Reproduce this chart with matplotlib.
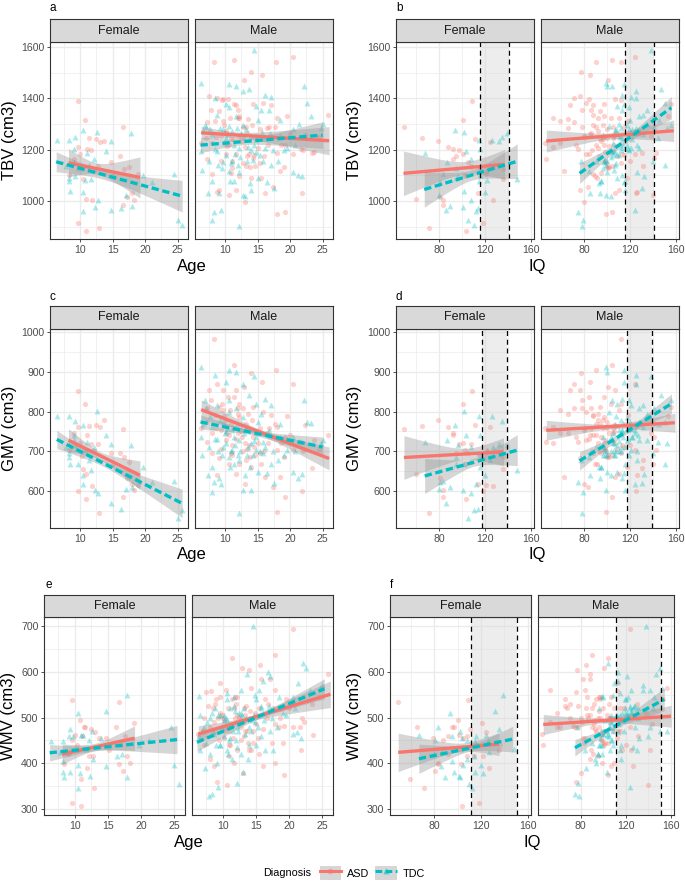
import numpy as np
import matplotlib.pyplot as plt
from matplotlib.patches import Patch
from matplotlib.lines import Line2D

plt.rcParams['font.family'] = ['Liberation Sans', 'DejaVu Sans']

ASD_COL = '#F8766D'
TDC_COL = '#00BFC4'

# subjects (TBV = GMV + WMV)
# female ASD
fa_age = [9.6, 10.8, 11.4, 12.5, 13.1, 13.6, 9.6, 11.1, 11.6, 12.8,
          10.5, 10.9, 11.8, 9.6, 10.9, 12.9, 16.6, 14.7, 16.2, 16.8,
          15.1, 17.2, 17.9, 18.3, 16.6, 9.0, 10.0, 8.3, 10.3, 17.5,
          18.9, 12.2]
fa_gmv = [852, 820, 764, 766, 761, 778, 761, 741, 718, 718,
          655, 642, 613, 600, 579, 546, 755, 696, 697, 686,
          669, 632, 617, 603, 586, 745, 720, 703, 689, 674,
          615, 700]
fa_wmv = [538, 495, 480, 474, 469, 455, 451, 460, 480, 417,
          429, 366, 390, 314, 306, 347, 534, 455, 480, 440,
          429, 384, 415, 401, 398, 420, 462, 399, 439, 459,
          489, 417]
fa_iq = [108.5, 100.5, 65, 111, 124, 79, 88, 92, 97, 108,
         135.5, 59.5, 127, 118, 103.5, 71, 49.5, 105, 95, 136,
         102.5, 80.6, 114, 83.5, 83, 92, 101, 102.5, 115.7, 108,
         121, 121.5]

# female TDC
ft_age = [6.4, 8.2, 9.2, 10.4, 12.6, 14.0, 9.1, 9.1, 11.0, 12.2,
          14.7, 17.8, 8.2, 8.2, 8.4, 9.7, 10.4, 10.4, 11.7, 11.3,
          12.3, 12.8, 14.7, 16.3, 17.1, 17.9, 19.6, 21.1, 24.5, 25.0,
          25.7, 10.8, 9.2, 7.8]
ft_gmv = [788, 788, 776, 766, 801, 741, 741, 728, 724, 711,
          718, 715, 695, 686, 669, 669, 640, 617, 654, 678,
          603, 594, 571, 555, 604, 611, 661, 623, 626, 531,
          552, 703, 715, 711]
ft_wmv = [449, 449, 474, 510, 470, 455, 460, 424, 462, 451,
          515, 550, 382, 405, 371, 460, 396, 346, 432, 462,
          373, 410, 395, 417, 420, 370, 440, 452, 480, 397,
          354, 378, 382, 424]
ft_iq = [115, 126, 135, 93.7, 102, 103.4, 115.7, 86.4, 67.4, 108,
         132, 139, 115, 95, 102, 95, 120, 112, 148, 124.4,
         101, 108, 86, 114, 80, 89, 115.7, 80.6, 83, 105,
         110, 121.5, 96.7, 127]

# male ASD
ma_age = [8.2, 11.4, 17.8, 20.5, 14.0, 15.6, 8.8, 7.5, 9.6, 12.9,
          11.7, 7.2, 10.4, 11.4, 12.2, 12.7, 14.3, 15.8, 17.1, 17.9,
          17.6, 19.2, 25.8, 23.6, 22.3, 23.4, 21.8, 19.2, 17.9, 17.4,
          18.4, 16.1, 15.5, 13.1, 11.7, 8.7, 8.0, 7.2, 9.1, 10.6,
          12.2, 13.8, 14.5, 16.6, 16.4, 14.8, 13.2, 12.2, 10.9, 9.3,
          8.0, 10.1, 11.1, 13.0, 14.3, 17.9, 19.0, 20.5, 21.6, 8.5,
          9.6, 13.5, 11.9, 10.9, 13.2, 15.3, 7.0, 10.1, 6.3, 9.5,
          19.5, 22.0,
          9.0, 9.8, 10.3, 10.8, 11.2, 11.6, 12.0, 12.4, 12.8, 13.3,
          13.7, 14.1, 14.6, 15.0, 15.4, 8.6, 9.4, 10.0, 10.6, 11.0,
          11.9, 12.6, 13.4, 14.0, 16.0, 16.8, 18.6, 20.0, 7.8, 24.5]
ma_gmv = [983, 918, 905, 869, 897, 874, 870, 854, 854, 862,
          854, 808, 837, 837, 820, 808, 812, 799, 791, 762,
          770, 736, 741, 728, 766, 659, 601, 584, 548, 611,
          636, 636, 668, 619, 644, 640, 695, 724, 682, 669,
          669, 686, 711, 720, 745, 745, 770, 787, 770, 753,
          745, 728, 715, 720, 736, 703, 686, 703, 724, 791,
          803, 795, 745, 695, 678, 695, 774, 778, 760, 820,
          790, 700,
          812, 790, 745, 805, 760, 730, 795, 750, 700, 760,
          715, 780, 690, 720, 760, 760, 705, 765, 740, 690,
          810, 735, 705, 660, 700, 760, 720, 740, 830, 705]
ma_wmv = [559, 630, 636, 694, 605, 616, 530, 555, 545, 609,
          520, 500, 560, 540, 505, 480, 565, 585, 585, 560,
          520, 482, 596, 462, 490, 530, 430, 375, 400, 445,
          480, 395, 420, 378, 400, 395, 409, 440, 360, 353,
          430, 445, 470, 500, 540, 510, 520, 545, 470, 500,
          480, 455, 440, 490, 430, 485, 445, 480, 480, 520,
          510, 525, 500, 415, 460, 455, 470, 495, 465, 575,
          540, 500,
          540, 505, 470, 520, 480, 455, 530, 500, 450, 505,
          470, 515, 445, 485, 520, 490, 450, 500, 480, 440,
          545, 500, 470, 430, 475, 530, 500, 520, 525, 545]
ma_iq = [112, 104, 90, 124, 77, 85, 71, 76, 107, 101,
         68, 71, 84, 97, 103, 78, 156, 82, 88, 53,
         115, 73, 88, 98, 106, 130, 125, 104, 99, 83,
         62, 107, 91, 80, 110, 126, 88, 47, 76, 140,
         89, 100, 115, 106, 66, 138, 90, 97, 94, 80,
         59, 82, 120, 53, 141, 143, 102, 124, 75, 118,
         59, 66, 105, 95, 131, 112, 100, 92, 46, 112,
         153, 87,
         94, 88, 102, 110, 96, 84, 92, 106, 99, 86,
         113, 96, 104, 92, 100, 81, 98, 108, 90, 101,
         86, 95, 109, 117, 93, 105, 97, 85, 78, 96]

# male TDC
mt_age = [6.35, 8.4, 10.6, 11.7, 14.5, 7.1, 6.9, 8.8, 10.6, 10.1,
          12.7, 13.6, 14.8, 16.1, 17.1, 22.1, 22.6, 23.2, 25.0, 24.7,
          20.5, 21.2, 21.8, 19.5, 18.4, 16.8, 15.8, 14.8, 13.5, 12.2,
          11.1, 9.6, 8.0, 6.6, 6.35, 7.5, 8.5, 9.6, 10.6, 11.4,
          9.3, 8.3, 9.1, 7.9, 12.1, 12.7, 14.0, 15.0, 16.4, 17.1,
          18.2, 15.8, 13.8, 12.2, 11.1, 10.1, 14.0, 15.0, 12.7, 10.6,
          11.7, 15.5, 18.4, 20.5, 6.5, 8.0, 7.3, 17.5, 13.0, 21.3,
          9.2, 9.9, 10.4, 10.9, 11.3, 11.8, 12.3, 12.9, 13.2, 13.9,
          14.3, 14.7, 15.3, 16.2, 16.9, 8.7, 9.5, 10.2, 11.5, 12.5,
          13.4, 14.4, 15.7, 17.4, 19.0, 7.6, 8.9, 10.8, 12.0, 20.8]
mt_gmv = [912, 893, 904, 901, 889, 808, 828, 816, 828, 874,
          870, 841, 820, 833, 816, 828, 774, 772, 728, 720,
          649, 632, 644, 703, 736, 753, 724, 703, 711, 728,
          753, 774, 762, 770, 736, 711, 732, 711, 686, 669,
          619, 623, 633, 597, 546, 603, 603, 649, 645, 669,
          678, 695, 661, 678, 703, 720, 753, 774, 787, 799,
          808, 795, 770, 736, 690, 660, 640, 620, 640, 725,
          780, 745, 760, 700, 735, 770, 700, 745, 760, 720,
          690, 735, 700, 710, 740, 730, 690, 750, 715, 755,
          690, 725, 745, 700, 690, 790, 700, 660, 690, 700]
mt_wmv = [548, 510, 553, 546, 700, 480, 470, 520, 540, 505,
          560, 595, 550, 580, 590, 619, 609, 560, 571, 565,
          465, 469, 455, 505, 520, 600, 520, 490, 500, 480,
          520, 505, 500, 505, 460, 445, 470, 440, 430, 410,
          348, 333, 400, 329, 357, 420, 440, 440, 430, 470,
          480, 460, 410, 435, 455, 460, 500, 540, 510, 495,
          525, 560, 545, 545, 430, 420, 390, 430, 380, 575,
          505, 480, 500, 450, 485, 515, 470, 505, 520, 480,
          470, 505, 480, 495, 525, 465, 440, 495, 470, 510,
          465, 495, 525, 500, 510, 490, 440, 420, 450, 520]
mt_iq = [99, 125, 115, 100, 138, 141, 156, 131, 119, 115,
         125, 147, 109, 113, 121, 104, 150, 141, 135, 152,
         100, 113, 132, 121, 96, 113, 144, 106, 112, 128,
         124, 128, 131, 107, 103, 90, 118, 97, 84, 116,
         124, 75, 94, 79, 78, 99, 116, 109, 115, 150,
         77, 140, 93, 126, 97, 105, 110, 120, 117, 102,
         128, 135, 145, 122, 106, 95, 85, 130, 103, 110,
         112, 105, 118, 108, 114, 125, 103, 111, 119, 106,
         98, 122, 110, 116, 127, 104, 96, 113, 109, 121,
         100, 117, 124, 112, 119, 108, 99, 95, 107, 126]

# fitted lines:
# (x start, x end, y start, y end, ci half-width at start, at end, narrowest)
fit_a = {('Female', 'ASD'): (8.2, 19.2, 1149, 1092, 55, 80, 22),
         ('Female', 'TDC'): (6.3, 25.7, 1153, 1019, 39, 62, 18),
         ('Male', 'ASD'): (6.3, 26.0, 1266, 1235, 25, 55, 12),
         ('Male', 'TDC'): (6.2, 25.0, 1218, 1257, 30, 52, 12)}
fit_b = {('Female', 'ASD'): (48.9, 137, 1108, 1143, 87, 58, 25),
         ('Female', 'TDC'): (67, 148, 1045, 1155, 69, 68, 20),
         ('Male', 'ASD'): (47, 158, 1234, 1274, 43, 42, 12),
         ('Male', 'TDC'): (76, 156, 1108, 1364, 40, 44, 12)}
fit_c = {('Female', 'ASD'): (8.2, 19.2, 728, 640, 29, 36, 10),
         ('Female', 'TDC'): (6.4, 25.7, 730, 569, 23, 36, 8),
         ('Male', 'ASD'): (6.3, 26.0, 805, 682, 25, 29, 7),
         ('Male', 'TDC'): (6.2, 25.0, 774, 711, 18, 25, 6)}
fit_d = {('Female', 'ASD'): (49.3, 136, 684.5, 699, 55, 35, 14),
         ('Female', 'TDC'): (67.4, 148, 638, 703, 44, 39, 10),
         ('Male', 'ASD'): (47, 159, 753, 772, 25, 24, 6),
         ('Male', 'TDC'): (76, 156, 676, 820, 23, 25, 6)}
fit_e = {('Female', 'ASD'): (8.1, 19.0, 420, 455, 22, 27, 8),
         ('Female', 'TDC'): (6.2, 25.4, 423, 452, 18, 31, 6),
         ('Male', 'ASD'): (6.3, 26.2, 464, 551, 18, 29, 6),
         ('Male', 'TDC'): (6.1, 25.3, 446, 563, 20, 22, 5)}
fit_f = {('Female', 'ASD'): (49.4, 135.3, 424, 442, 42, 25, 9),
         ('Female', 'TDC'): (67, 147, 410, 453, 32, 28, 7),
         ('Male', 'ASD'): (47, 160, 485, 503, 22, 24, 5),
         ('Male', 'TDC'): (75, 154, 434, 540, 18, 25, 5)}

# shaded IQ ranges between the dashed lines
iq_band_b = [115.5, 140.5]
iq_band_d = [117.5, 139.5]
iq_band_f = [111.5, 151.0]

groups = {
    'Female': {'ASD': dict(age=fa_age, iq=fa_iq, gmv=fa_gmv, wmv=fa_wmv),
               'TDC': dict(age=ft_age, iq=ft_iq, gmv=ft_gmv, wmv=ft_wmv)},
    'Male': {'ASD': dict(age=ma_age, iq=ma_iq, gmv=ma_gmv, wmv=ma_wmv),
             'TDC': dict(age=mt_age, iq=mt_iq, gmv=mt_gmv, wmv=mt_wmv)},
}
for sex in groups:
    for dx in groups[sex]:
        g = groups[sex][dx]
        g['tbv'] = np.add(g['gmv'], g['wmv'])

xaxes = {'age': dict(lim=(5.35, 26.6), major=[10, 15, 20, 25],
                     minor=[7.5, 12.5, 17.5, 22.5], label='Age'),
         'iq': dict(lim=(42.4, 162.6), major=[80, 120, 160],
                    minor=[60, 100, 140], label='IQ')}
yaxes = {'tbv': dict(lim=(852, 1620), major=[1000, 1200, 1400, 1600],
                     minor=[900, 1100, 1300, 1500], label='TBV (cm3)'),
         'gmv': dict(lim=(507, 1008), major=[600, 700, 800, 900, 1000],
                     minor=[550, 650, 750, 850, 950], label='GMV (cm3)'),
         'wmv': dict(lim=(287, 720), major=[300, 400, 500, 600, 700],
                     minor=[350, 450, 550, 650], label='WMV (cm3)')}

# layout in pixels: letter, x var, y var, facet columns, panel top/bottom,
# strip height, fits, iq band, letter pos, ylabel x, xlabel y
panels = [
    ('a', 'age', 'tbv', [(50, 188), (195, 333)], (42, 239), 23, fit_a, None, (50, 8), 10, 267),
    ('b', 'iq', 'tbv', [(396, 534), (541, 679)], (42, 239), 23, fit_b, iq_band_b, (396, 8), 355, 267),
    ('c', 'age', 'gmv', [(50, 188), (195, 333)], (329, 528), 23, fit_c, None, (50, 297), 10, 554),
    ('d', 'iq', 'gmv', [(396, 534), (541, 679)], (329, 528), 23, fit_d, iq_band_d, (396, 297), 355, 554),
    ('e', 'age', 'wmv', [(44, 185), (192, 333)], (617, 815), 22, fit_e, None, (45, 585), 9, 842),
    ('f', 'iq', 'wmv', [(390, 531), (538, 674)], (617, 815), 22, fit_f, iq_band_f, (390, 585), 355, 842),
]

W, H = 685.0, 883.0
fig = plt.figure(figsize=(6.85, 8.83), dpi=100)


def box(x0, x1, y0, y1):
    return [x0 / W, 1 - y1 / H, (x1 - x0) / W, (y1 - y0) / H]


def ci_band(x0, x1, y0, y1, h0, h1, hmin):
    xs = np.linspace(x0, x1, 80)
    r = np.sqrt((h0 ** 2 - hmin ** 2) / (h1 ** 2 - hmin ** 2))
    xc = (x0 + r * x1) / (1 + r)
    k = (h0 ** 2 - hmin ** 2) / (xc - x0) ** 2
    ys = y0 + (y1 - y0) * (xs - x0) / (x1 - x0)
    hw = np.sqrt(hmin ** 2 + k * (xs - xc) ** 2)
    return xs, ys - hw, ys + hw


for letter, xk, yk, cols, (ytop, ybot), sh, fits, band, lpos, ylx, xly in panels:
    xa, ya = xaxes[xk], yaxes[yk]
    for i, sex in enumerate(['Female', 'Male']):
        x0, x1 = cols[i]
        ax = fig.add_axes(box(x0, x1, ytop, ybot))
        ax.set_xlim(xa['lim'])
        ax.set_ylim(ya['lim'])
        ax.set_xticks(xa['major'])
        ax.set_xticks(xa['minor'], minor=True)
        ax.set_yticks(ya['major'])
        ax.set_yticks(ya['minor'], minor=True)
        ax.grid(which='major', color='#EBEBEB', lw=1.0)
        ax.grid(which='minor', color='#EBEBEB', lw=0.5)
        ax.set_axisbelow(True)
        ax.tick_params(which='minor', length=0)
        ax.tick_params(which='major', length=2.5, width=0.6, color='#333333',
                       labelsize=7.6, labelcolor='#4D4D4D', pad=1.5)
        if i == 1:
            ax.tick_params(axis='y', left=False, labelleft=False)
        for sp in ax.spines.values():
            sp.set_color('#333333')
            sp.set_linewidth(0.8)

        if band is not None:
            ax.axvspan(band[0], band[1], color='#D9D9D9', alpha=0.45, lw=0, zorder=1.5)

        for dx, col, mk, sz in [('ASD', ASD_COL, 'o', 14), ('TDC', TDC_COL, '^', 18)]:
            g = groups[sex][dx]
            ax.scatter(g[xk], g[yk], s=sz, marker=mk, color=col, alpha=0.33,
                       linewidths=0, zorder=2)

        for dx, col, ls in [('ASD', ASD_COL, '-'), ('TDC', TDC_COL, (0, (2.2, 1.1)))]:
            fx0, fx1, fy0, fy1, h0, h1, hm = fits[(sex, dx)]
            xs, lo, hi = ci_band(fx0, fx1, fy0, fy1, h0, h1, hm)
            ax.fill_between(xs, lo, hi, color='#999999', alpha=0.4, lw=0, zorder=3)
            ax.plot([fx0, fx1], [fy0, fy1], color=col, lw=2.4, ls=ls,
                    solid_capstyle='butt', zorder=4)

        if band is not None:
            for v in band:
                ax.axvline(v, color='black', lw=0.9, ls=(0, (4, 3)), zorder=5)

        st = fig.add_axes(box(x0, x1, ytop - sh, ytop))
        st.set_facecolor('#D9D9D9')
        st.set_xticks([])
        st.set_yticks([])
        for sp in st.spines.values():
            sp.set_color('#333333')
            sp.set_linewidth(0.8)
        st.text(0.5, 0.5, sex, ha='center', va='center', fontsize=9,
                color='#1A1A1A', transform=st.transAxes)

    fig.text(lpos[0] / W, 1 - lpos[1] / H, letter, fontsize=8.5, ha='left', va='center')
    fig.text(ylx / W, 1 - (ytop + ybot) / 2 / H, ya['label'], rotation=90,
             fontsize=12, ha='center', va='center')
    fig.text((cols[0][0] + cols[1][1]) / 2 / W, 1 - xly / H, xa['label'],
             fontsize=12, ha='center', va='center')

# legend
key_bg = dict(facecolor='#999999', alpha=0.4, edgecolor='none')
asd_h = (Patch(**key_bg),
         Line2D([], [], marker='o', ls='none', color=ASD_COL, alpha=0.4, markersize=3),
         Line2D([], [], color=ASD_COL, lw=2.2))
tdc_h = (Patch(**key_bg),
         Line2D([], [], marker='^', ls='none', color=TDC_COL, alpha=0.4, markersize=3.5),
         Line2D([], [], color=TDC_COL, lw=2.2, ls=(0, (2.2, 1.1))))
fig.text(263 / W, 1 - 873 / H, 'Diagnosis', fontsize=7.8, ha='left', va='center')
fig.legend([asd_h, tdc_h], ['ASD', 'TDC'], loc='center left',
           bbox_to_anchor=(312 / W, 1 - 873 / H), ncol=2, frameon=False,
           fontsize=7.8, handlelength=2.0, handleheight=1.6, handletextpad=0.5,
           columnspacing=0.6, borderpad=0.2)

fig.savefig('out.png', dpi=100)
